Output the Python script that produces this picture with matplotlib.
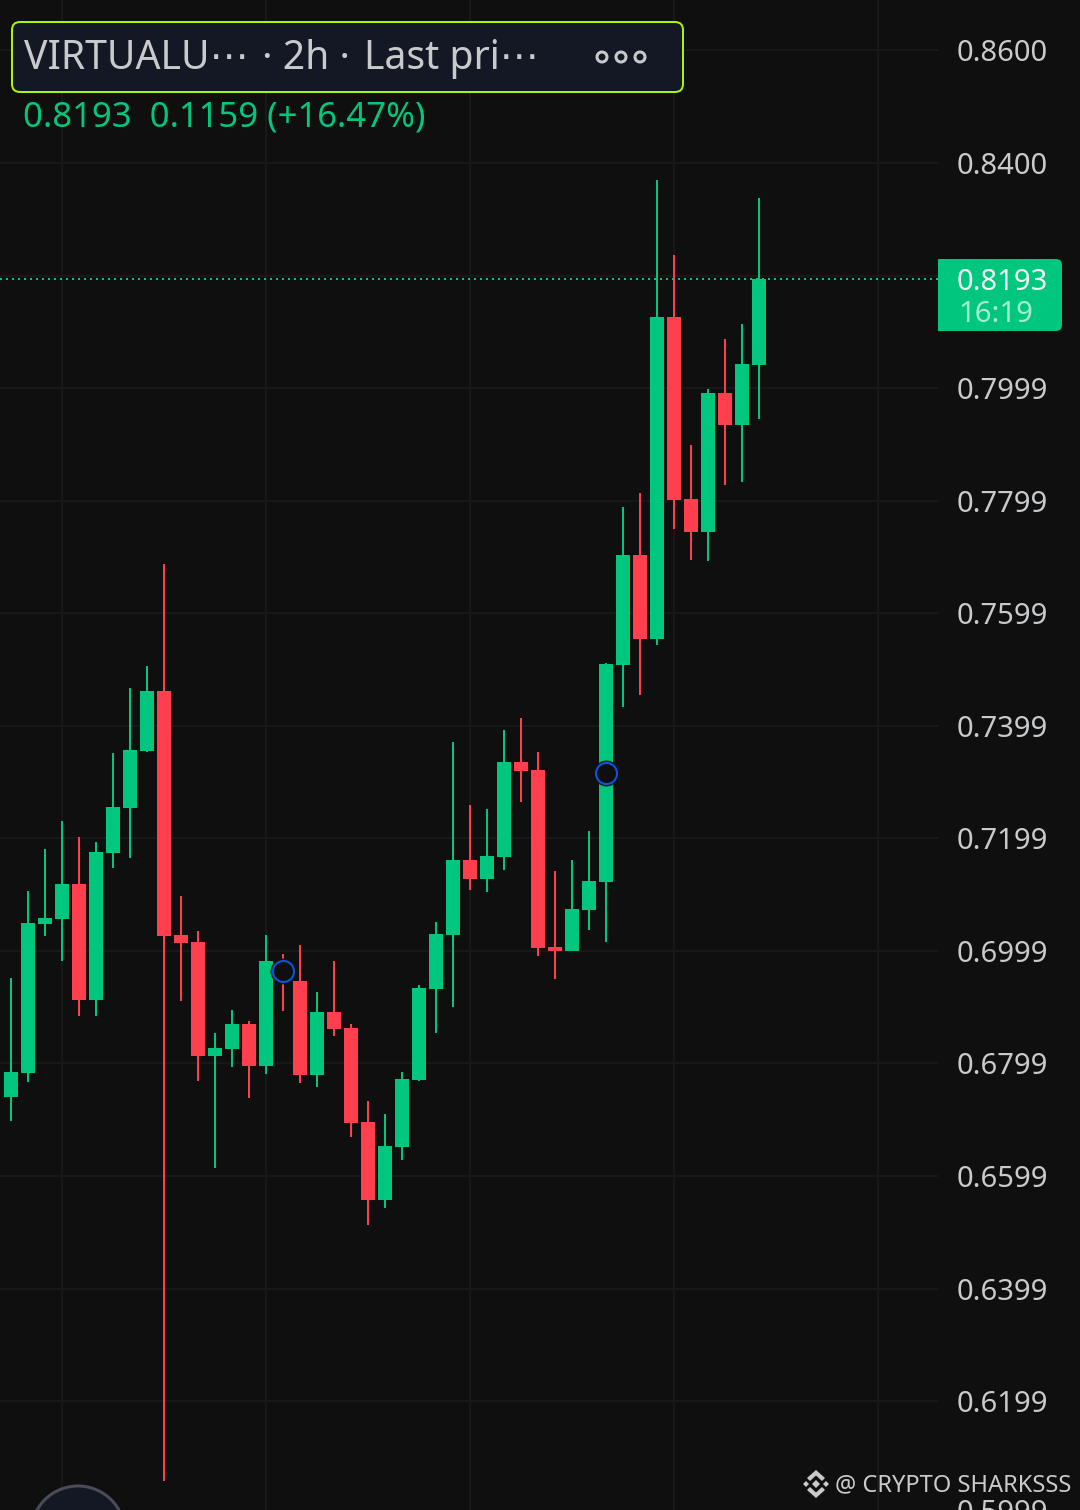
import numpy as np
import matplotlib
matplotlib.use('Agg')
import matplotlib.pyplot as plt
from matplotlib.patches import FancyBboxPatch, Rectangle, Circle, Polygon
from matplotlib.transforms import blended_transform_factory

#%% data

opens = [0.6739, 0.6782, 0.7047, 0.7056, 0.7118, 0.6912, 0.7173, 0.7253, 0.7354, 0.7461, 0.7027, 0.7015,
         0.6812, 0.6825, 0.6869, 0.6794, 0.6974, 0.6946, 0.6778, 0.6890, 0.6862, 0.6695, 0.6556, 0.6651,
         0.6770, 0.6931, 0.7027, 0.7161, 0.7127, 0.7166, 0.7335, 0.7320, 0.7006, 0.6999, 0.7072, 0.7121,
         0.7507, 0.7703, 0.7553, 0.8126, 0.7802, 0.7743, 0.7990, 0.7934, 0.8040]
highs = [0.6951, 0.7105, 0.7180, 0.7230, 0.7201, 0.7193, 0.7351, 0.7466, 0.7505, 0.7687, 0.7097, 0.7034,
         0.6853, 0.6894, 0.6874, 0.7027, 0.6993, 0.7009, 0.6926, 0.6981, 0.6869, 0.6732, 0.6709, 0.6784,
         0.6938, 0.7050, 0.7370, 0.7258, 0.7251, 0.7392, 0.7413, 0.7352, 0.7141, 0.7161, 0.7212, 0.7511,
         0.7788, 0.7813, 0.8369, 0.8236, 0.7898, 0.7998, 0.8086, 0.8113, 0.8337]
lows = [0.6697, 0.6766, 0.7025, 0.6981, 0.6883, 0.6883, 0.7146, 0.7164, 0.7352, 0.6057, 0.6910, 0.6768,
        0.6613, 0.6793, 0.6738, 0.6780, 0.6892, 0.6764, 0.6757, 0.6848, 0.6668, 0.6512, 0.6542, 0.6627,
        0.6768, 0.6853, 0.6899, 0.7107, 0.7104, 0.7143, 0.7264, 0.6990, 0.6949, 0.6999, 0.7036, 0.7015,
        0.7432, 0.7454, 0.7543, 0.7749, 0.7694, 0.7692, 0.7827, 0.7832, 0.7944]
closes = [0.6784, 0.7049, 0.7057, 0.7118, 0.6912, 0.7175, 0.7255, 0.7356, 0.7461, 0.7025, 0.7013, 0.6812,
          0.6826, 0.6869, 0.6794, 0.6981, 0.6951, 0.6778, 0.6890, 0.6860, 0.6693, 0.6556, 0.6652, 0.6771,
          0.6933, 0.7029, 0.7161, 0.7127, 0.7168, 0.7335, 0.7319, 0.7004, 0.6999, 0.7073, 0.7123, 0.7509,
          0.7703, 0.7553, 0.8126, 0.7800, 0.7743, 0.7990, 0.7934, 0.8042, 0.8193]

price_ticks = [0.8600, 0.8400, 0.8199, 0.7999, 0.7799, 0.7599, 0.7399, 0.7199, 0.6999, 0.6799, 0.6599, 0.6399, 0.6199]
clipped_tick = 0.5999
time_grid = [3, 15, 27, 39, 51]
marker_idx = [16, 35]
marker_price = [0.6963, 0.7315]
last_price = 0.8193

title_parts = ['VIRTUALU\u22ef', '\u00b7 2h \u00b7', 'Last pri\u22ef']
quote_text = '0.8193  0.1159 (+16.47%)'
tag_time = '16:19'
watermark = '@ CRYPTO SHARKSSS'

#%% plot features

bg = '#0f0f0f'
grid_col = '#181818'
green = '#00c77d'
red = '#ff3f4d'
label_col = '#c9cacc'
panel = '#141824'
px = 0.72  # one pixel in points at dpi 100
tick_size = 21

plt.rcParams['font.family'] = ['Noto Sans', 'DejaVu Sans']

fig = plt.figure(figsize=(10.8, 15.1), dpi=100, facecolor=bg)
ax = fig.add_axes([0, 0, 1, 1], facecolor=bg)

x_left, x_right = -11 / 17, 1069 / 17
scale_edge = 927 / 17  # where the price scale starts
ax.set_xlim(x_left, x_right)
ax.set_ylim(0.600544, 0.868886)

ax.hlines(price_ticks, x_left, scale_edge, color=grid_col, lw=2 * px, zorder=1)
ax.vlines(time_grid, *ax.get_ylim(), color=grid_col, lw=2 * px, zorder=1)
ax.hlines(last_price, x_left, scale_edge, color=green, lw=2 * px, linestyle=(0, (1, 2)), zorder=2)

#%% candles

idx = np.arange(len(opens))
opens, highs, lows, closes = map(np.array, (opens, highs, lows, closes))
colors = np.where(closes >= opens, green, red)

ax.vlines(idx, lows, highs, color=colors, lw=2 * px, capstyle='butt', zorder=3)
ax.bar(idx, np.abs(closes - opens), bottom=np.minimum(opens, closes), width=14 / 17, color=colors,
       linewidth=0, zorder=4)

ax.scatter(marker_idx, marker_price, s=(26 * px) ** 2, color=bg, alpha=0.85, linewidths=0, zorder=5)
ax.scatter(marker_idx, marker_price, s=(21 * px) ** 2, facecolor=bg, edgecolor='#0b55e6', linewidths=2 * px, zorder=6)

#%% price scale

ax.yaxis.tick_right()
ax.set_yticks(price_ticks)
ax.set_yticklabels(['%.4f' % p for p in price_ticks])
ax.tick_params(axis='y', length=0, pad=(957 - 1080) * px, labelsize=tick_size, labelcolor=label_col)
ax.set_xticks([])
for spine in ax.spines.values():
    spine.set_visible(False)

trans = blended_transform_factory(ax.transAxes, ax.transData)
ax.text(957 / 1080, clipped_tick, '%.4f' % clipped_tick, transform=trans, fontsize=tick_size, color=label_col,
        va='center', ha='left', clip_on=False)

#%% overlay in pixel coordinates for the header, price tag and watermark

ui = fig.add_axes([0, 0, 1, 1], facecolor='none')
ui.set_xlim(0, 1080)
ui.set_ylim(1510, 0)
ui.axis('off')

ui.add_patch(FancyBboxPatch((12, 22), 671, 70, boxstyle='round,pad=0,rounding_size=8', fc=panel, ec='#aaf500', lw=2 * px))
for part, tx in zip(title_parts, [24, 262, 364]):
    ui.text(tx, 59, part, fontsize=28.2, color=label_col, va='center', ha='left')
for cx in [602, 621, 640]:
    ui.add_patch(Circle((cx, 57), 5, fc='none', ec=label_col, lw=3 * px))
ui.text(23, 117, quote_text, fontsize=25, color=green, va='center', ha='left')

ui.add_patch(Rectangle((938, 259), 20, 72, fc=green, ec='none'))
ui.add_patch(FancyBboxPatch((940, 259), 122, 72, boxstyle='round,pad=0,rounding_size=6', fc=green, ec='none'))
ui.text(957, 282, '%.4f' % last_price, fontsize=tick_size, color='#f2fbf7', va='center', ha='left')
ui.text(958, 314, tag_time, fontsize=tick_size, color='#a6ecd2', va='center', ha='left')

ui.add_patch(Circle((78, 1533), 47, fc=panel, ec='#4a4d57', lw=3 * px))

# exchange logo next to the watermark
logo_col = '#c9cacc'
cx, cy = 816, 1484
for dx, dy, r in [(0, 0, 4), (-10, 0, 3), (10, 0, 3)]:
    ui.add_patch(Polygon([(cx + dx - r, cy + dy), (cx + dx, cy + dy - r), (cx + dx + r, cy + dy), (cx + dx, cy + dy + r)],
                         fc=logo_col, ec='none'))
for s in [-1, 1]:
    ui.add_patch(Polygon([(cx - 9, cy + s * 6), (cx, cy + s * 14), (cx + 9, cy + s * 6), (cx + 6, cy + s * 3),
                          (cx, cy + s * 8.5), (cx - 6, cy + s * 3)], fc=logo_col, ec='none'))
ui.text(835, 1485, watermark, fontsize=17, color=label_col, va='center', ha='left')

fig.savefig('out.png', dpi=100, facecolor=bg)
